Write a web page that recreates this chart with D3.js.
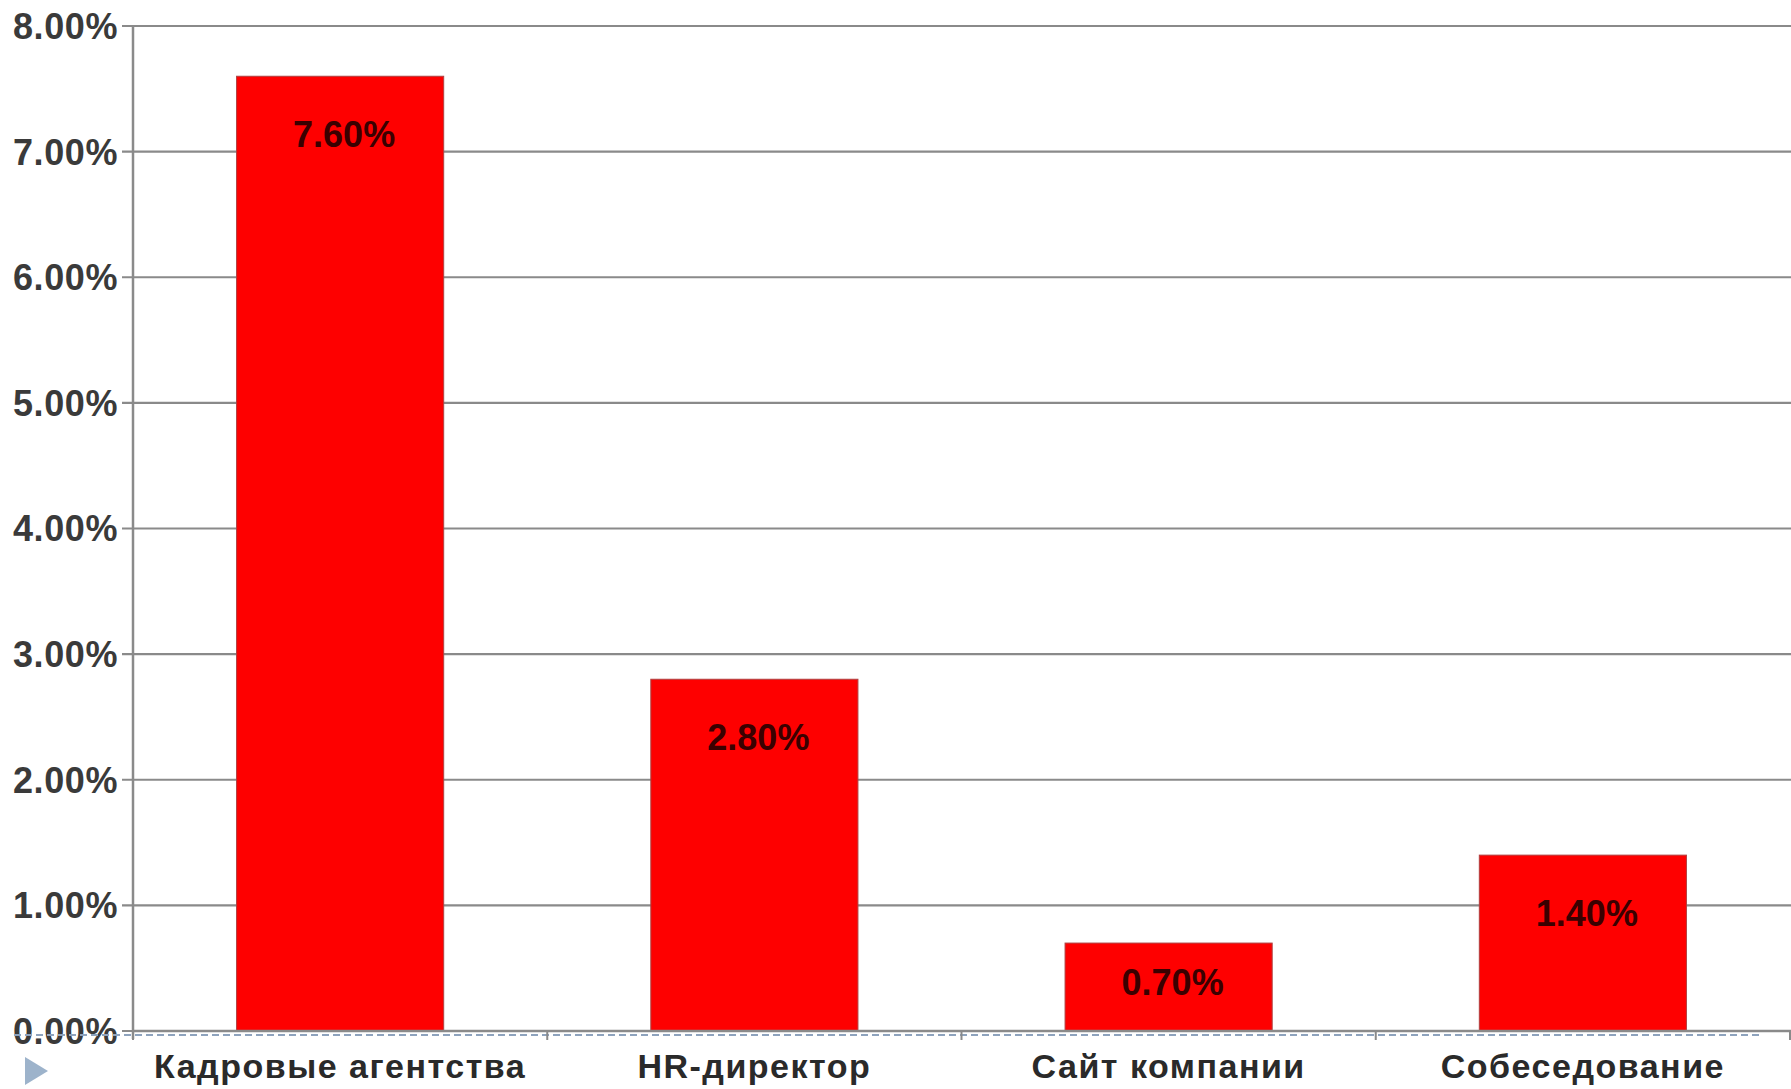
<!DOCTYPE html>
<html><head><meta charset="utf-8">
<script src="https://cdn.jsdelivr.net/npm/d3@7"></script>
<style>html,body{margin:0;padding:0;background:#fff;overflow:hidden}</style>
</head><body>
<svg id="chart" width="1791" height="1089"></svg>
<script>
const categories = ["Кадровые агентства", "HR-директор", "Сайт компании", "Собеседование"];
const values = [7.6, 2.8, 0.7, 1.4];
const yTicks = [0, 1, 2, 3, 4, 5, 6, 7, 8];

const svg = d3.select("#chart");
const M = { left: 133, right: 1790, top: 26, bottom: 1031 };
const x = d3.scaleBand().domain(categories).range([M.left, M.right]).paddingInner(0.5).paddingOuter(0.25);
const y = d3.scaleLinear().domain([0, 8]).range([M.bottom, M.top]);
const fmt = v => v.toFixed(2) + "%";

// gridlines
svg.append("g").selectAll("line").data(yTicks).join("line")
  .attr("x1", M.left - 11).attr("x2", M.right + 2)
  .attr("y1", d => y(d)).attr("y2", d => y(d))
  .attr("stroke", "#8a8a8a").attr("stroke-width", 2.2);

// y labels
svg.append("g").selectAll("text").data(yTicks).join("text")
  .attr("x", M.left - 15).attr("y", d => y(d))
  .attr("dy", "0.36em").attr("text-anchor", "end")
  .attr("font-family", "Liberation Sans, Arial, sans-serif")
  .attr("font-size", 36).attr("font-weight", "bold").attr("fill", "#3a3a3a")
  .attr("letter-spacing", 0.6)
  .text(fmt);

// dashed baseline
svg.append("line").attr("x1", 14).attr("x2", 1762)
  .attr("y1", M.bottom + 4).attr("y2", M.bottom + 4)
  .attr("stroke", "#8ea3bd").attr("stroke-width", 2).attr("stroke-dasharray", "7,4");

// bars
svg.append("g").selectAll("rect").data(values).join("rect")
  .attr("x", (d, i) => x(categories[i]))
  .attr("width", x.bandwidth())
  .attr("y", d => y(d))
  .attr("height", d => y(0) - y(d))
  .attr("fill", "#fe0000").attr("stroke", "#b04040").attr("stroke-width", 1);

// axis lines
svg.append("line").attr("x1", M.left).attr("x2", M.left).attr("y1", M.top).attr("y2", M.bottom + 8)
  .attr("stroke", "#8a8a8a").attr("stroke-width", 2.5);
svg.append("line").attr("x1", M.left).attr("x2", M.right + 2).attr("y1", M.bottom).attr("y2", M.bottom)
  .attr("stroke", "#8a8a8a").attr("stroke-width", 2.5);

// category boundary ticks
const step = x.step();
const bounds = d3.range(categories.length + 1).map(i => M.left + i * step);
svg.append("g").selectAll("line").data(bounds).join("line")
  .attr("x1", d => d).attr("x2", d => d).attr("y1", M.bottom).attr("y2", M.bottom + 9)
  .attr("stroke", "#8a8a8a").attr("stroke-width", 2);

// x labels
svg.append("g").selectAll("text").data(categories).join("text")
  .attr("x", d => x(d) + x.bandwidth() / 2).attr("y", 1078)
  .attr("text-anchor", "middle")
  .attr("font-family", "Liberation Sans, Arial, sans-serif")
  .attr("font-size", 34).attr("font-weight", "bold").attr("fill", "#2a2a2a")
  .attr("letter-spacing", 1.5)
  .text(d => d);

// data labels
svg.append("g").selectAll("text").data(values).join("text")
  .attr("x", (d, i) => x(categories[i]) + x.bandwidth() / 2 + 4)
  .attr("y", d => y(d) + Math.min(58, (y(0) - y(d)) / 2 - 5))
  .attr("dy", "0.36em").attr("text-anchor", "middle")
  .attr("font-family", "Liberation Sans, Arial, sans-serif")
  .attr("font-size", 36).attr("font-weight", "bold").attr("fill", "#3a0000")
  .text(fmt);

// bullet triangle
svg.append("path").attr("d", "M25,1057 L48,1071 L25,1085 Z").attr("fill", "#9db3cb");
</script>
</body></html>
